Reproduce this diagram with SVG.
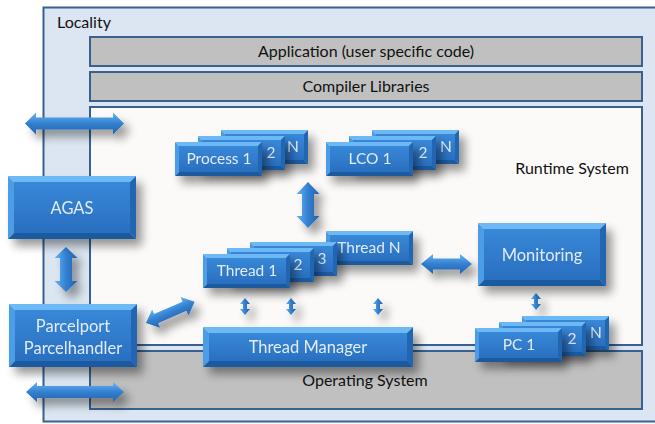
<svg xmlns="http://www.w3.org/2000/svg" width="655" height="424" viewBox="0 0 655 424">
<style>
.lay{stroke:#38618f;stroke-width:2}
.gray{fill:#c0c0c0}
.lt{font-family:Lato,"Liberation Sans",sans-serif;font-size:16px;fill:#111}
.bt{font-family:Lato,"Liberation Sans",sans-serif;font-size:16.5px;fill:#e2ecf8;text-anchor:middle}
.st{font-size:15.5px}
.bv-t{fill:#6cb9f5}.bv-l{fill:#4c9de6}.bv-r{fill:#2465b0}.bv-b{fill:#1f5aa0}
.face{fill:url(#face)}
.ah{fill:url(#ah)}.av{fill:url(#av)}
</style>
<defs>
<linearGradient id="face" x1="0" y1="0" x2="0" y2="1"><stop offset="0" stop-color="#3888d8"/><stop offset="1" stop-color="#2a6fc0"/></linearGradient>
<linearGradient id="ah" x1="0" y1="0" x2="0" y2="1"><stop offset="0" stop-color="#66b6f3"/><stop offset="0.5" stop-color="#3380d0"/><stop offset="1" stop-color="#2462aa"/></linearGradient>
<linearGradient id="av" x1="0" y1="0" x2="1" y2="0"><stop offset="0" stop-color="#66b6f3"/><stop offset="0.5" stop-color="#3380d0"/><stop offset="1" stop-color="#2462aa"/></linearGradient>
<filter id="sh" x="-30%" y="-40%" width="170%" height="200%">
<feGaussianBlur in="SourceAlpha" stdDeviation="5"/>
<feOffset dx="6" dy="7"/>
<feComponentTransfer><feFuncA type="linear" slope="0.4"/></feComponentTransfer>
<feMerge><feMergeNode/><feMergeNode in="SourceGraphic"/></feMerge>
</filter>
<g id="sbox">
<polygon class="bv-t" points="0,0 87,0 83,4 4,4"/>
<polygon class="bv-l" points="0,0 4,4 4,30 0,34"/>
<polygon class="bv-r" points="87,0 87,34 83,30 83,4"/>
<polygon class="bv-b" points="0,34 87,34 83,30 4,30"/>
<rect class="face" x="4" y="4" width="79" height="26"/>
</g>
<g id="bbox">
<polygon class="bv-t" points="0,0 128,0 122,6 6,6"/>
<polygon class="bv-l" points="0,0 6,6 6,57 0,63"/>
<polygon class="bv-r" points="128,0 128,63 122,57 122,6"/>
<polygon class="bv-b" points="0,63 128,63 122,57 6,57"/>
<rect class="face" x="6" y="6" width="116" height="51"/>
</g>
</defs>

<g id="locality">
<rect x="43.5" y="7.5" width="700" height="414" fill="#dce6f2" class="lay"/>
<text class="lt" x="57" y="28">Locality</text>
</g>
<g id="application">
<rect x="90" y="37" width="552" height="29" class="lay gray"/>
<text class="lt" x="366" y="57" text-anchor="middle">Application (user specific code)</text>
</g>
<g id="compiler">
<rect x="90" y="72" width="552" height="29" class="lay gray"/>
<text class="lt" x="366" y="92" text-anchor="middle">Compiler Libraries</text>
</g>
<g id="runtime">
<rect x="90" y="107" width="552" height="238" fill="#fbfaf9" class="lay"/>
<text class="lt" x="572" y="174" text-anchor="middle">Runtime System</text>
</g>
<g id="os">
<rect x="90" y="351" width="552" height="58" class="lay gray"/>
<text class="lt" x="365" y="386" text-anchor="middle">Operating System</text>
</g>

<g id="connectors" filter="url(#sh)">
<polygon class="ah" points="25,123.5 36,112.5 36,117.5 113,117.5 113,112.5 124,123.5 113,134.5 113,129.5 36,129.5 36,134.5"/>
<polygon class="ah" points="26,392 37,382 37,386 113,386 113,382 124,392 113,402 113,398 37,398 37,402"/>
<polygon class="av" points="66,247 77.5,258 72,258 72,281 77.5,281 66,292 54.5,281 60,281 60,258 54.5,258"/>
<polygon class="av" points="308,182 319.5,194 314,194 314,216 319.5,216 308,228 296.5,216 302,216 302,194 296.5,194"/>
<polygon class="ah" points="421,264 433,254 433,258.5 460,258.5 460,254 472,264 460,274 460,269.5 433,269.5 433,274"/>
<polygon class="ah" transform="translate(146,323) rotate(-23.5)" points="0,0 11,-10 11,-5 42,-5 42,-10 53,0 42,10 42,5 11,5 11,10"/>
<polygon class="av" points="245,298 250,304 247,304 247,309 250,309 245,315 240,309 243,309 243,304 240,304"/>
<polygon class="av" points="291,298 296,304 293,304 293,309 296,309 291,315 286,309 289,309 289,304 286,304"/>
<polygon class="av" points="378,298 383,304 380,304 380,309 383,309 378,315 373,309 376,309 376,304 373,304"/>
<polygon class="av" points="536,293 541,299 538,299 538,304 541,304 536,310 531,304 534,304 534,299 531,299"/>
</g>

<g id="agas">
<use href="#bbox" transform="translate(8,176)" filter="url(#sh)"/>
<text class="bt" x="72" y="214">AGAS</text>
</g>
<g id="parcelport">
<use href="#bbox" transform="translate(9,304)" filter="url(#sh)"/>
<text class="bt" x="73" y="332">Parcelport</text>
<text class="bt" x="73" y="354">Parcelhandler</text>
</g>

<g id="process-stack">
<use href="#sbox" transform="translate(221,130)" filter="url(#sh)"/>
<text class="bt st" x="293" y="152">N</text>
<use href="#sbox" transform="translate(198,136)" filter="url(#sh)"/>
<text class="bt st" x="271" y="158">2</text>
<use href="#sbox" transform="translate(175,142)" filter="url(#sh)"/>
<text class="bt st" x="219" y="164">Process 1</text>
</g>

<g id="lco-stack">
<use href="#sbox" transform="translate(372,130)" filter="url(#sh)"/>
<text class="bt st" x="446" y="152">N</text>
<use href="#sbox" transform="translate(349,136)" filter="url(#sh)"/>
<text class="bt st" x="423" y="158">2</text>
<use href="#sbox" transform="translate(326,142)" filter="url(#sh)"/>
<text class="bt st" x="370" y="164">LCO 1</text>
</g>

<g id="thread-stack">
<use href="#sbox" transform="translate(326,231)" filter="url(#sh)"/>
<text class="bt st" x="369" y="253">Thread N</text>
<use href="#sbox" transform="translate(250,242)" filter="url(#sh)"/>
<text class="bt st" x="322" y="264">3</text>
<use href="#sbox" transform="translate(227,248)" filter="url(#sh)"/>
<text class="bt st" x="298" y="270">2</text>
<use href="#sbox" transform="translate(203,254)" filter="url(#sh)"/>
<text class="bt st" x="247" y="276">Thread 1</text>
</g>

<g id="thread-manager">
<g transform="translate(203,327)" filter="url(#sh)">
<polygon class="bv-t" points="0,0 210,0 204,6 6,6"/>
<polygon class="bv-l" points="0,0 6,6 6,34 0,40"/>
<polygon class="bv-r" points="210,0 210,40 204,34 204,6"/>
<polygon class="bv-b" points="0,40 210,40 204,34 6,34"/>
<rect class="face" x="6" y="6" width="198" height="28"/>
</g>
<text class="bt" x="308" y="353">Thread Manager</text>
</g>

<g id="monitoring">
<use href="#bbox" transform="translate(478,223)" filter="url(#sh)"/>
<text class="bt" x="542" y="261">Monitoring</text>
</g>

<g id="pc-stack">
<use href="#sbox" transform="translate(522,316)" filter="url(#sh)"/>
<text class="bt st" x="596" y="338">N</text>
<use href="#sbox" transform="translate(499,322)" filter="url(#sh)"/>
<text class="bt st" x="572" y="344">2</text>
<use href="#sbox" transform="translate(475,328)" filter="url(#sh)"/>
<text class="bt st" x="519" y="350">PC 1</text>
</g>
</svg>
